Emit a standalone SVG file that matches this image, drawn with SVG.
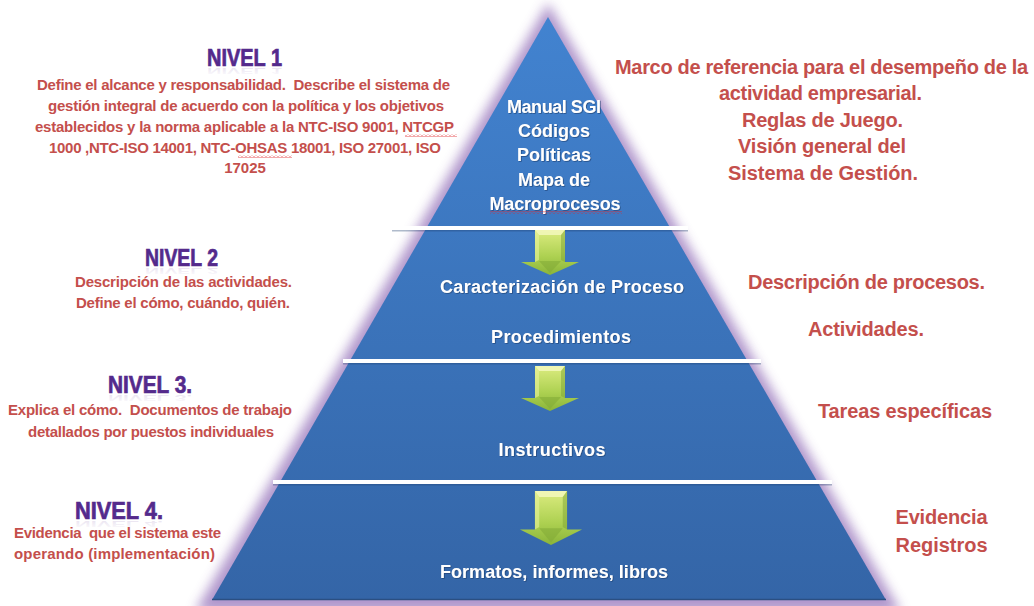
<svg xmlns="http://www.w3.org/2000/svg" width="1034" height="606" viewBox="0 0 1034 606">
<defs>
<style>
text{font-family:"Liberation Sans",Arial,sans-serif;font-weight:bold;text-anchor:middle}
.tier{font-size:18px;fill:#ffffff;filter:url(#tshadow)}
.lvl{font-size:24px;fill:#542a8c;stroke:#542a8c;stroke-width:0.7}
.lvlr{font-size:24px;fill:url(#reflg)}
.ldesc{font-size:15px;fill:#c44f4c;white-space:pre}
.rdesc{font-size:20px;fill:#c44f4c}
.sep{stroke:#ffffff;stroke-width:4}
.sepsh{stroke:#1f3f6e;stroke-width:2;opacity:.35}
.squig{fill:url(#squig)}
</style>
<linearGradient id="pyr" x1="0" y1="0" x2="0" y2="1">
<stop offset="0" stop-color="#4283d0"/>
<stop offset="1" stop-color="#3465a7"/>
</linearGradient>
<linearGradient id="arrowg" x1="0" y1="0" x2="0" y2="1">
<stop offset="0" stop-color="#dcec80"/>
<stop offset="0.6" stop-color="#acd050"/>
<stop offset="1" stop-color="#8ab43a"/>
</linearGradient>
<linearGradient id="reflg" x1="0" y1="0" x2="0" y2="1">
<stop offset="0" stop-color="#5a2b8f" stop-opacity="0"/>
<stop offset="1" stop-color="#5a2b8f" stop-opacity="0.15"/>
</linearGradient>
<filter id="glow" x="-20%" y="-20%" width="140%" height="140%">
<feGaussianBlur stdDeviation="6"/>
</filter>
<filter id="tshadow" x="-10%" y="-30%" width="120%" height="160%">
<feDropShadow dx="0.8" dy="0.8" stdDeviation="0.6" flood-color="#1d3d6b" flood-opacity="0.7"/>
</filter>
<pattern id="squig" width="4" height="3" patternUnits="userSpaceOnUse">
<path d="M0,2.5 L2,0.5 L4,2.5" stroke="#e0262b" fill="none" stroke-width="0.8"/>
</pattern>
<g id="arrow">
<path d="M-15,0 H15 V32 H29 L0,45 L-29,32 H-15 Z" fill="url(#arrowg)"/>
<path d="M-15,0 H15 L11,5 H-11 Z" fill="#f3f8bd" opacity="0.85"/>
<path d="M-15,0 L-11,5 V30 L-15,32 Z" fill="#e8f29c" opacity="0.6"/>
<path d="M15,0 L11,5 V30 L15,32 Z" fill="#7ea335" opacity="0.5"/>
<path d="M-11,31 H11 L0,43 Z" fill="#82aa36" opacity="0.55"/>
</g>
</defs>
<rect width="1034" height="606" fill="#ffffff"/>

<g id="pyramid">
<polygon points="548,3 195,612 901,612" fill="#a88bc6" opacity="0.9" filter="url(#glow)"/>
<polygon points="548,17 886,600 212,600" fill="url(#pyr)"/>
<line x1="212" y1="599.5" x2="886" y2="599.5" stroke="#2b4f82" stroke-width="1.5"/>
</g>

<g id="separators">
<line class="sepsh" x1="392" y1="230.5" x2="688" y2="230.5"/>
<line class="sep" x1="392" y1="228" x2="688" y2="228"/>
<line class="sepsh" x1="343" y1="363.5" x2="761" y2="363.5"/>
<line class="sep" x1="343" y1="361" x2="761" y2="361"/>
<line class="sepsh" x1="273" y1="484.5" x2="832" y2="484.5"/>
<line class="sep" x1="273" y1="482" x2="832" y2="482"/>
</g>

<g id="tier-1">
<text class="tier" x="554" y="112.5" textLength="94" lengthAdjust="spacing">Manual SGI</text>
<text class="tier" x="554" y="137">Códigos</text>
<text class="tier" x="554" y="161">Políticas</text>
<text class="tier" x="554" y="186">Mapa de</text>
<text class="tier" x="555" y="210" textLength="131" lengthAdjust="spacing">Macroprocesos</text>
<rect class="squig" x="490" y="211" width="132" height="3"/>
</g>

<g id="tier-2">
<text class="tier" x="562" y="293" textLength="244" lengthAdjust="spacing">Caracterización de Proceso</text>
<text class="tier" x="561" y="343" textLength="140" lengthAdjust="spacing">Procedimientos</text>
</g>

<g id="tier-3">
<text class="tier" x="552" y="456" textLength="107" lengthAdjust="spacing">Instructivos</text>
</g>

<g id="tier-4">
<text class="tier" x="554" y="578" textLength="228" lengthAdjust="spacing">Formatos, informes, libros</text>
</g>

<g id="connectors">
<use href="#arrow" transform="translate(550,230)"/>
<use href="#arrow" transform="translate(550,366)"/>
<use href="#arrow" transform="translate(551,491) scale(1.07,1.2)"/>
</g>

<g id="nivel-1">
<text class="lvl" x="244.5" y="66" textLength="75" lengthAdjust="spacingAndGlyphs">NIVEL 1</text>
<text class="lvlr" x="244.5" y="66" textLength="75" lengthAdjust="spacingAndGlyphs" transform="matrix(1,0,0,-0.4,0,94.4)">NIVEL 1</text>
<text class="ldesc" x="243.5" y="90" textLength="413" lengthAdjust="spacing">Define el alcance y responsabilidad.  Describe el sistema de</text>
<text class="ldesc" x="246" y="111" textLength="396" lengthAdjust="spacing">gestión integral de acuerdo con la política y los objetivos</text>
<text class="ldesc" x="244.5" y="132" textLength="419" lengthAdjust="spacing">establecidos y la norma aplicable a la NTC-ISO 9001, NTCGP</text>
<text class="ldesc" x="245" y="153" textLength="392" lengthAdjust="spacing">1000 ,NTC-ISO 14001, NTC-OHSAS 18001, ISO 27001, ISO</text>
<text class="ldesc" x="245" y="173">17025</text>
<rect class="squig" x="405" y="134" width="52" height="3"/>
<rect class="squig" x="238" y="155" width="54" height="3"/>
</g>

<g id="nivel-2">
<text class="lvl" x="181.5" y="266" textLength="73" lengthAdjust="spacingAndGlyphs">NIVEL 2</text>
<text class="lvlr" x="181.5" y="266" textLength="73" lengthAdjust="spacingAndGlyphs" transform="matrix(1,0,0,-0.4,0,374.4)">NIVEL 2</text>
<text class="ldesc" x="183.5" y="287" textLength="217" lengthAdjust="spacing">Descripción de las actividades.</text>
<text class="ldesc" x="183" y="308" textLength="214" lengthAdjust="spacing">Define el cómo, cuándo, quién.</text>
</g>

<g id="nivel-3">
<text class="lvl" x="150" y="393" textLength="84" lengthAdjust="spacingAndGlyphs">NIVEL 3.</text>
<text class="lvlr" x="150" y="393" textLength="84" lengthAdjust="spacingAndGlyphs" transform="matrix(1,0,0,-0.4,0,552.2)">NIVEL 3.</text>
<text class="ldesc" x="150" y="415" textLength="284" lengthAdjust="spacing">Explica el cómo.  Documentos de trabajo</text>
<text class="ldesc" x="151" y="437" textLength="246" lengthAdjust="spacing">detallados por puestos individuales</text>
</g>

<g id="nivel-4">
<text class="lvl" x="119" y="519" textLength="88" lengthAdjust="spacingAndGlyphs">NIVEL 4.</text>
<text class="lvlr" x="119" y="519" textLength="88" lengthAdjust="spacingAndGlyphs" transform="matrix(1,0,0,-0.4,0,728.6)">NIVEL 4.</text>
<text class="ldesc" x="117.5" y="538" textLength="207" lengthAdjust="spacing">Evidencia  que el sistema este</text>
<text class="ldesc" x="114.5" y="559" textLength="201" lengthAdjust="spacing">operando (implementación)</text>
</g>

<g id="desc-1">
<text class="rdesc" x="821.5" y="74" textLength="413" lengthAdjust="spacing">Marco de referencia para el desempeño de la</text>
<text class="rdesc" x="820.5" y="100" textLength="203" lengthAdjust="spacing">actividad empresarial.</text>
<text class="rdesc" x="822.5" y="127" textLength="161" lengthAdjust="spacing">Reglas de Juego.</text>
<text class="rdesc" x="822" y="153" textLength="168" lengthAdjust="spacing">Visión general del</text>
<text class="rdesc" x="823" y="180" textLength="190" lengthAdjust="spacing">Sistema de Gestión.</text>
</g>

<g id="desc-2">
<text class="rdesc" x="866.5" y="289" textLength="237" lengthAdjust="spacing">Descripción de procesos.</text>
<text class="rdesc" x="866" y="336" textLength="116" lengthAdjust="spacing">Actividades.</text>
</g>

<g id="desc-3">
<text class="rdesc" x="905" y="418" textLength="174" lengthAdjust="spacing">Tareas específicas</text>
</g>

<g id="desc-4">
<text class="rdesc" x="941.5" y="524" textLength="92" lengthAdjust="spacing">Evidencia</text>
<text class="rdesc" x="941.5" y="552" textLength="92" lengthAdjust="spacing">Registros</text>
</g>
</svg>
